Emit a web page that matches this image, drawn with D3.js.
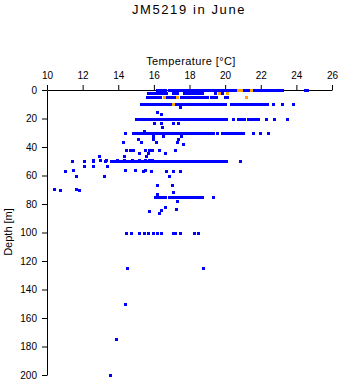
<!DOCTYPE html>
<html><head><meta charset="utf-8">
<script src="https://cdn.jsdelivr.net/npm/d3@7"></script>
<style>
body{margin:0;background:#fff;}
svg{display:block;font-family:"Liberation Sans",Arial,sans-serif;}
</style></head>
<body>
<svg id="chart" width="341" height="384"></svg>
<script>
const chartTitle = "JM5219 in June";
const xTitle = "Temperature [°C]";
const yTitle = "Depth [m]";
const xTicks = [10, 12, 14, 16, 18, 20, 22, 24, 26];
const yTicks = [0, 20, 40, 60, 80, 100, 120, 140, 160, 180, 200];

// Dense sampling levels (depth in m) and temperatures measured at each
const levelDepths = [0, 2, 5, 10, 20, 30, 50, 75, 100];
const levelTemps = [
  [16.15,16.3,16.45,16.6,16.85,17.0,17.15,17.3,17.45,17.6,17.75,17.9,18.05,18.2,18.35,18.5,18.65,18.8,18.95,19.1,19.25,19.4,19.55,19.7,19.85,20.0,20.15,20.3,20.45,20.6,21.05,21.2,21.3,21.6,21.75,21.9,22.05,22.2,22.35,22.5,22.65,22.8,22.95,23.1,23.2,24.5,24.6],
  [15.65,15.8,15.95,16.1,16.25,16.4,16.55,16.7,17.05,17.2,17.3,17.7,17.85,18.0,18.15,18.3,18.45,18.6,18.7,19.45,19.85],
  [15.6,15.75,15.9,16.05,16.2,16.35,16.7,16.85,17.0,17.15,17.5,17.65,17.8,17.95,18.1,18.25,18.4,18.55,18.7,18.85,19.0,19.2,19.35,19.5,20.0,20.1],
  [15.3,15.45,15.6,15.75,15.9,16.05,16.2,16.35,16.5,16.65,16.8,16.95,17.25,17.4,17.55,17.7,17.85,18.0,18.15,18.3,18.45,18.6,18.75,18.9,19.05,19.2,19.35,19.5,19.65,19.8,19.9,20.0,20.35,20.5,20.65,20.8,20.95,21.1,21.25,21.4,21.55,21.7,21.85,22.0,22.15,22.3,22.35,22.67,23.17,23.8],
  [15.0,15.15,15.3,15.45,15.6,15.75,15.9,16.05,16.2,16.35,16.5,16.65,16.8,16.95,17.1,17.25,17.4,17.55,17.7,17.85,18.0,18.15,18.3,18.45,18.6,18.75,18.9,19.05,19.2,19.35,19.5,19.65,19.8,19.95,20.05,20.45,20.75,20.9,21.05,21.3,21.45,21.6,21.75,21.85,22.3,22.75,23.45],
  [14.4,14.8,14.95,15.1,15.25,15.4,15.55,15.7,15.85,16.0,16.15,16.3,16.45,16.6,16.75,16.9,17.05,17.2,17.35,17.5,17.65,17.8,17.95,18.1,18.25,18.4,18.55,18.7,18.85,19.0,19.15,19.3,19.55,19.85,20.0,20.15,20.3,20.45,20.6,20.75,20.9,21.0,21.57,21.95,22.4],
  [11.38,12.05,12.6,13.28,13.6,13.75,13.9,14.05,14.2,14.35,14.5,14.65,14.8,14.95,15.1,15.25,15.4,15.55,15.7,15.85,16.0,16.15,16.3,16.45,16.6,16.75,16.9,17.05,17.2,17.35,17.5,17.65,17.8,17.95,18.1,18.25,18.4,18.55,18.7,18.85,19.0,19.15,19.3,19.45,19.6,19.75,19.9,20.05,20.86],
  [16.05,16.2,16.35,16.5,16.65,16.85,17.0,17.15,17.3,17.45,17.6,17.75,17.9,18.05,18.2,18.35,18.5,18.65,18.7,19.3],
  [14.45,14.7,15.15,15.45,15.65,15.95,16.2,16.4,17.05,17.2,17.45,18.25,18.5]
];

// Individual casts between the standard levels
const spotDepth = [12,15.5,17,23,23,23,23,26,29,32,32,32,34.5,34.5,34.5,36.5,36.5,36.5,36.5,38,
  42,42,42,42,42,42,42,42,44,44,44,46,46,46,49,49,49,49,49,49,49,49,49,49,
  53,53,53,56,56,56,56,57,57,57,57,57,57,60.5,60.5,60.5,67,67,69.5,69.5,70.5,70.5,71.5,73,
  78,82,83.5,84.5,85,86,125,125,150,175,200];
const spotTemp = [17.45,16.2,16.4,15.98,16.4,17.1,17.35,16.45,15.45,15.95,16.5,17.55,15.1,15.95,17.35,14.25,15.3,16.1,17.3,17.65,
  14.45,14.65,14.85,15.5,15.7,15.9,16.3,17.2,15.15,15.65,16.65,12.9,14.3,15.55,12.6,13.0,13.3,13.95,14.35,14.75,15.15,15.5,15.75,15.9,
  12.1,12.6,13.35,11.45,14.4,14.95,15.5,11.0,15.4,15.85,16.7,17.05,17.45,11.6,13.2,16.85,16.15,17.0,10.4,11.6,10.75,11.8,17.05,16.15,
  17.3,16.65,17.25,16.4,15.7,16.3,14.5,18.75,14.4,13.85,13.55];

// Surface samples highlighted in orange
const orangeDepth = [0,0,0,2,2,5,5,5,10];
const orangeTemp = [20.75,20.9,21.45,19.65,20.1,16.55,17.3,21.15,17.1];

const svg = d3.select("#chart");
const x = d3.scaleLinear().domain([10, 26]).range([47, 332]);
const y = d3.scaleLinear().domain([0, 200]).range([90, 375]);

svg.append("text").attr("x", 189).attr("y", 14).attr("text-anchor", "middle")
  .attr("font-size", 13).attr("letter-spacing", 1.6).text(chartTitle);
svg.append("text").attr("x", 191).attr("y", 65).attr("text-anchor", "middle")
  .attr("font-size", 11).attr("letter-spacing", 0.4).text(xTitle);
svg.append("text").attr("transform", "translate(12,232) rotate(-90)").attr("text-anchor", "middle")
  .attr("font-size", 11).text(yTitle);

const gx = svg.append("g").attr("transform", "translate(0,90)")
  .call(d3.axisTop(x).tickValues(xTicks).tickSize(5).tickSizeOuter(0).tickPadding(6));
const gy = svg.append("g").attr("transform", "translate(47,0)")
  .call(d3.axisLeft(y).tickValues(yTicks).tickSize(5).tickSizeOuter(0).tickPadding(5));
[gx, gy].forEach(g => {
  g.selectAll("text").attr("font-size", 10).attr("fill", "#000").attr("font-family", "Liberation Sans, Arial, sans-serif");
  g.selectAll("line,path").attr("stroke", "#000");
});

const blue = [];
levelDepths.forEach((d, i) => levelTemps[i].forEach(t => blue.push({t, d})));
spotDepth.forEach((d, i) => blue.push({t: spotTemp[i], d}));
const orange = orangeDepth.map((d, i) => ({t: orangeTemp[i], d}));

const pts = svg.append("g").attr("shape-rendering", "crispEdges");
pts.selectAll("rect.b").data(blue).join("rect").attr("class", "b")
  .attr("x", p => Math.round(x(p.t)) - 1).attr("y", p => Math.round(y(p.d)) - 1)
  .attr("width", 3).attr("height", 3).attr("fill", "#0000ff");
pts.selectAll("rect.o").data(orange).join("rect").attr("class", "o")
  .attr("x", p => Math.round(x(p.t)) - 1).attr("y", p => Math.round(y(p.d)) - 1)
  .attr("width", 3).attr("height", 3).attr("fill", "#ffa500");
</script>
</body></html>
